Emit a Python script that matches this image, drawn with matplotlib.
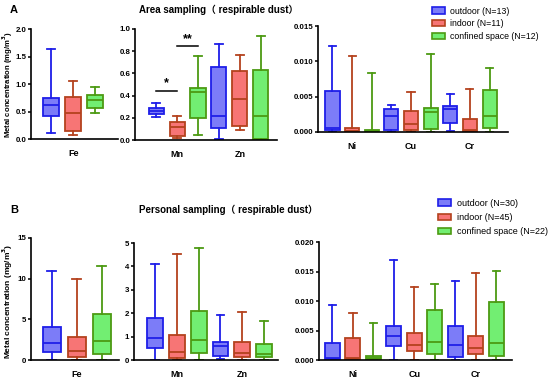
import matplotlib.pyplot as plt
from matplotlib.patches import Patch

# groups and colours
groups = ['outdoor', 'indoor', 'confined space']
area_n = [13, 11, 12]
personal_n = [30, 45, 22]
face_colors = ['#7c7cf8', '#f77575', '#72ee72']
edge_colors = ['#1e1ee8', '#b4421e', '#4c9a12']

# box stats per metal: one row per group -> [min, q1, median, q3, max]
area_fe = [[0.12, 0.42, 0.62, 0.74, 1.64], [0.07, 0.15, 0.48, 0.77, 1.06], [0.47, 0.57, 0.72, 0.80, 0.94]]
area_mn = [[0.21, 0.235, 0.26, 0.285, 0.33], [0.015, 0.04, 0.115, 0.16, 0.215], [0.045, 0.20, 0.43, 0.47, 0.76]]
area_zn = [[0.005, 0.11, 0.22, 0.655, 0.865], [0.09, 0.125, 0.365, 0.62, 0.765], [0.0, 0.005, 0.215, 0.63, 0.94]]
area_ni = [[0, 0.00024, 0.0005, 0.0058, 0.0122], [0, 0.0001, 0.0002, 0.0005, 0.0108], [0, 0.0001, 0.0002, 0.0003, 0.0083]]
area_cu = [[0, 0.0003, 0.0023, 0.0032, 0.0038], [0, 0.0003, 0.0011, 0.0030, 0.0057], [0, 0.0004, 0.0028, 0.0034, 0.011]]
area_cr = [[0.0002, 0.0013, 0.0032, 0.0037, 0.0054], [0, 0.0001, 0.0003, 0.0019, 0.0061], [0, 0.0005, 0.0023, 0.006, 0.009]]

personal_fe = [[0, 1.0, 2.1, 4.1, 10.9], [0, 0.33, 1.1, 2.8, 9.9], [0, 0.7, 2.3, 5.6, 11.55]]
personal_mn = [[0, 0.53, 0.95, 1.78, 4.11], [0, 0.10, 0.34, 1.09, 4.54], [0, 0.29, 0.85, 2.08, 4.77]]
personal_zn = [[0.03, 0.19, 0.62, 0.75, 1.93], [0, 0.14, 0.29, 0.75, 2.07], [0.02, 0.11, 0.26, 0.69, 1.67]]
personal_ni = [[0, 0.0002, 0.0004, 0.0028, 0.00935], [0, 0.0002, 0.0004, 0.0037, 0.0080], [0, 0.0001, 0.0003, 0.0006, 0.0063]]
personal_cu = [[0, 0.0024, 0.0040, 0.0058, 0.0170], [0, 0.0015, 0.00255, 0.00455, 0.0123], [0, 0.001, 0.0031, 0.00855, 0.0129]]
personal_cr = [[0, 0.0005, 0.0025, 0.0058, 0.0134], [0, 0.001, 0.0021, 0.0041, 0.0147], [0, 0.0007, 0.0029, 0.0098, 0.0151]]

# significance marks on area Mn: (group a, group b, y, text)
area_sig = [(0, 1, 0.445, '*'), (1, 2, 0.845, '**')]

plt.rcParams['font.family'] = ['Liberation Sans', 'Noto Sans CJK SC']
plt.rcParams['font.weight'] = 'bold'

fig = plt.figure(figsize=(5.5, 3.78), dpi=100)


def draw_panel(rect, metals, data, yticks, fmt, xlim):
    ax = fig.add_axes(rect)
    offs = [-1/3, 0, 1/3]
    for g in range(3):
        stats = []
        for m in range(len(metals)):
            lo, q1, med, q3, hi = data[m][g]
            stats.append({'whislo': lo, 'q1': q1, 'med': med, 'q3': q3, 'whishi': hi, 'fliers': []})
        pos = [m + offs[g] for m in range(len(metals))]
        ec = edge_colors[g]
        ax.bxp(stats, positions=pos, widths=0.24, capwidths=0.12, patch_artist=True, showfliers=False,
               boxprops=dict(facecolor=face_colors[g], edgecolor=ec, linewidth=1.3),
               whiskerprops=dict(color=ec, linewidth=1.3),
               capprops=dict(color=ec, linewidth=1.3),
               medianprops=dict(color=ec, linewidth=1.3))
    ax.set_xlim(*xlim)
    ax.set_ylim(yticks[0], yticks[-1])
    ax.set_yticks(yticks)
    ax.set_yticklabels([fmt.format(v) for v in yticks], fontsize=5.7, fontweight='bold')
    ax.set_xticks(range(len(metals)))
    ax.set_xticklabels(metals, fontsize=6.5, fontweight='bold')
    ax.tick_params(axis='x', length=0, pad=7)
    ax.tick_params(axis='y', length=2.5, width=1.1, pad=1)
    for s in ['top', 'right']:
        ax.spines[s].set_visible(False)
    for s in ['left', 'bottom']:
        ax.spines[s].set_linewidth(1.2)
    ax.set_facecolor('none')
    return ax


# panel A
a1 = draw_panel([0.0564, 0.632, 0.158, 0.291], ['Fe'], [area_fe], [0, 0.5, 1.0, 1.5, 2.0], '{:.1f}', (-0.64, 0.68))
a2 = draw_panel([0.2455, 0.6296, 0.258, 0.2937], ['Mn', 'Zn'], [area_mn, area_zn],
                [0, 0.2, 0.4, 0.6, 0.8, 1.0], '{:.1f}', (-0.67, 1.59))
a3 = draw_panel([0.578, 0.6508, 0.345, 0.280], ['Ni', 'Cu', 'Cr'], [area_ni, area_cu, area_cr],
                [0, 0.005, 0.010, 0.015], '{:.3f}', (-0.58, 2.64))
offs = [-1/3, 0, 1/3]
for ga, gb, y, txt in area_sig:
    a2.plot([offs[ga], offs[gb]], [y, y], color='black', lw=1.1)
    a2.text((offs[ga] + offs[gb]) / 2, y + 0.01, txt, ha='center', va='bottom', fontsize=9, fontweight='bold')

# panel B
b1 = draw_panel([0.0564, 0.0476, 0.16, 0.3228], ['Fe'], [personal_fe], [0, 5, 10, 15], '{:.0f}', (-0.61, 0.56))
b2 = draw_panel([0.2436, 0.0476, 0.2618, 0.3095], ['Mn', 'Zn'], [personal_mn, personal_zn],
                [0, 1, 2, 3, 4, 5], '{:.0f}', (-0.66, 1.55))
b3 = draw_panel([0.58, 0.0476, 0.351, 0.312], ['Ni', 'Cu', 'Cr'], [personal_ni, personal_cu, personal_cr],
                [0, 0.005, 0.010, 0.015, 0.020], '{:.3f}', (-0.55, 2.59))

a1.set_ylabel('Metal concentration (mg/m$^\\mathbf{3}$)', fontsize=5.6, fontweight='bold')
a1.yaxis.set_label_coords(-0.185, 0.5)
b1.set_ylabel('Metal concentration (mg/m$^\\mathbf{3}$)', fontsize=6.0, fontweight='bold')
b1.yaxis.set_label_coords(-0.18, 0.48)

fig.text(10 / 550, 1 - 10 / 378, 'A', fontsize=8, fontweight='bold', va='center', ha='left')
fig.text(219 / 550, 1 - 10 / 378, 'Area sampling\uff08 respirable dust\uff09', fontsize=7, fontweight='bold',
         va='center', ha='center')
fig.text(10 / 550, 1 - 210 / 378, 'B', fontsize=8, fontweight='bold', va='center', ha='left')
fig.text(228 / 550, 1 - 210 / 378, 'Personal sampling\uff08 respirable dust\uff09', fontsize=7, fontweight='bold',
         va='center', ha='center')


def legend_handles():
    return [Patch(facecolor=face_colors[g], edgecolor=edge_colors[g], linewidth=1.2) for g in range(3)]


fig.legend(legend_handles(), ['%s (N=%d)' % (groups[g], area_n[g]) for g in range(3)],
           loc='upper left', bbox_to_anchor=(428 / 550, 1 - 3 / 378), frameon=False,
           prop={'size': 6.3, 'weight': 'normal'}, handlelength=1.5, handleheight=0.7,
           labelspacing=0.45, handletextpad=0.6, borderaxespad=0)
fig.legend(legend_handles(), ['%s (N=%d)' % (groups[g], personal_n[g]) for g in range(3)],
           loc='upper left', bbox_to_anchor=(434 / 550, 1 - 195 / 378), frameon=False,
           prop={'size': 6.5, 'weight': 'normal'}, handlelength=1.5, handleheight=0.7,
           labelspacing=0.6, handletextpad=0.6, borderaxespad=0)

fig.savefig('out.png', dpi=100)
